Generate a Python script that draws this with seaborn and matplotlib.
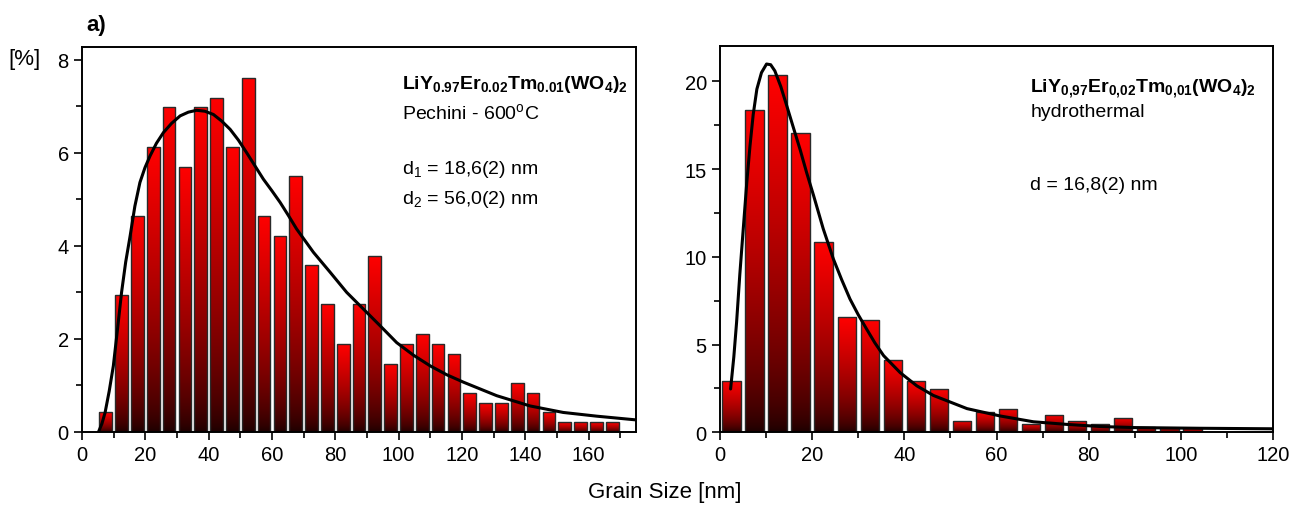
import numpy as np
import pandas as pd
import seaborn as sns
import matplotlib.pyplot as plt
from matplotlib.ticker import MultipleLocator

# Pechini - 600C histogram (bin centres, % of grains)
pech_bins = [7.5, 12.5, 17.5, 22.5, 27.5, 32.5, 37.5, 42.5, 47.5, 52.5, 57.5,
             62.5, 67.5, 72.5, 77.5, 82.5, 87.5, 92.5, 97.5, 102.5, 107.5,
             112.5, 117.5, 122.5, 127.5, 132.5, 137.5, 142.5, 147.5, 152.5,
             157.5, 162.5, 167.5]
pech_vals = [0.42, 2.95, 4.64, 6.12, 6.97, 5.70, 6.97, 7.18, 6.12, 7.60, 4.64,
             4.21, 5.49, 3.58, 2.74, 1.89, 2.74, 3.79, 1.47, 1.89, 2.10,
             1.89, 1.68, 0.84, 0.63, 0.63, 1.05, 0.84, 0.42, 0.21,
             0.21, 0.21, 0.21]
# fitted curve
pech_fit_x = [5.2, 6.3, 7.3, 8.6, 9.9, 11.2, 12.5, 13.8, 15.2, 16.7, 18.3, 19.9,
              21.5, 23.5, 25.7, 28.3, 31.0, 33.6, 36.2, 38.8, 41.5, 44.1, 46.8,
              49.4, 52.0, 54.6, 57.3, 60.0, 62.6, 65.2, 67.8, 73.1, 78.4, 83.6,
              88.9, 94.2, 99.4, 104.7, 110.0, 115.2, 120.5, 131.0, 141.5, 152.0,
              162.6, 175.0]
pech_fit_y = [0.0, 0.18, 0.42, 0.88, 1.42, 2.2, 3.0, 3.65, 4.21, 4.85, 5.36, 5.68,
              5.93, 6.2, 6.43, 6.63, 6.79, 6.87, 6.91, 6.89, 6.82, 6.68, 6.50,
              6.27, 6.0, 5.72, 5.43, 5.18, 4.93, 4.65, 4.36, 3.86, 3.43, 3.0,
              2.64, 2.28, 1.92, 1.65, 1.42, 1.23, 1.07, 0.78, 0.56, 0.42,
              0.34, 0.26]

# hydrothermal histogram
hyd_bins = [2.5, 7.5, 12.5, 17.5, 22.5, 27.5, 32.5, 37.5, 42.5, 47.5, 52.5,
            57.5, 62.5, 67.5, 72.5, 77.5, 82.5, 87.5, 92.5, 97.5, 102.5]
hyd_vals = [2.94, 18.38, 20.36, 17.04, 10.86, 6.55, 6.40, 4.10, 2.94, 2.47, 0.65,
            1.14, 1.33, 0.49, 1.0, 0.66, 0.47, 0.83, 0.3, 0.26, 0.22]
hyd_fit_x = [2.3, 3.0, 3.6, 4.3, 5.1, 5.8, 6.5, 7.2, 8.0, 9.0, 10.1, 11.0,
             11.9, 13.2, 14.5, 16.0, 17.4, 18.8, 20.3, 22.4, 24.6, 26.4, 28.2,
             30.0, 31.8, 33.6, 35.5, 39.1, 42.7, 46.3, 53.6, 60.8, 68.0, 75.3,
             82.5, 89.7, 104.0, 120.0]
hyd_fit_y = [2.47, 4.3, 6.27, 9.0, 11.78, 14.2, 16.3, 18.1, 19.56, 20.5,
             20.99, 20.95, 20.6, 19.7, 18.6, 17.3, 16.1, 14.8, 13.5, 11.6, 9.88,
             8.7, 7.6, 6.7, 5.89, 5.1, 4.37, 3.4, 2.65, 2.1, 1.35, 0.93, 0.6,
             0.45, 0.33, 0.27, 0.23, 0.2]

sns.set_style('ticks')
plt.rcParams['font.family'] = ['Liberation Sans', 'DejaVu Sans']
plt.rcParams['mathtext.fontset'] = 'custom'
plt.rcParams['mathtext.rm'] = 'Liberation Sans'
plt.rcParams['mathtext.it'] = 'Liberation Sans:italic'
plt.rcParams['mathtext.bf'] = 'Liberation Sans:bold'
for key in ['text.color', 'axes.labelcolor', 'xtick.color', 'ytick.color']:
    plt.rcParams[key] = 'black'


def gradient_bars(ax):
    t = np.linspace(0, 1, 256) ** 0.65
    grad = np.zeros((256, 1, 3))
    grad[:, 0, 0] = 0.1 + 0.9 * t
    for p in ax.patches:
        x0, w, h = p.get_x(), p.get_width(), p.get_height()
        im = ax.imshow(grad, extent=[x0, x0 + w, 0, h], origin='lower',
                       aspect='auto', zorder=1.5)
        im.set_clip_path(p)
        p.set_facecolor('none')
        p.set_edgecolor('#2a2a2a')
        p.set_linewidth(1.0)
        p.set_zorder(2)


def style_axis(ax):
    for s in ax.spines.values():
        s.set_linewidth(1.4)
        s.set_color('black')
    ax.tick_params(which='major', length=6, width=1.2, labelsize=14.5,
                   direction='out')
    ax.tick_params(which='minor', length=4, width=1.2, direction='out')
    ax.set_xlabel('')
    ax.set_ylabel('')


fig = plt.figure(figsize=(13.09, 5.10), dpi=100)
ax1 = fig.add_axes([82 / 1309, 1 - 433 / 510, 554 / 1309, 385.5 / 510])
ax2 = fig.add_axes([720 / 1309, 1 - 433.3 / 510, 553 / 1309, 386 / 510])

# left panel
sns.barplot(x=pech_bins, y=pech_vals, native_scale=True, width=0.8,
            color='red', ax=ax1)
gradient_bars(ax1)
ax1.plot(pech_fit_x, pech_fit_y, color='black', lw=2.2, zorder=3)
ax1.set_xlim(0, 175)
ax1.set_ylim(0, 8.28)
ax1.xaxis.set_major_locator(MultipleLocator(20))
ax1.xaxis.set_minor_locator(MultipleLocator(10))
ax1.yaxis.set_major_locator(MultipleLocator(2))
ax1.yaxis.set_minor_locator(MultipleLocator(1))
style_axis(ax1)

ax1.text(0.578, 0.905, r'$\mathbf{LiY_{0.97}Er_{0.02}Tm_{0.01}(WO_4)_2}$',
         transform=ax1.transAxes, fontsize=14, va='center')
ax1.text(0.578, 0.83, r'Pechini - 600$^{\rm o}$C', transform=ax1.transAxes,
         fontsize=14, va='center')
ax1.text(0.578, 0.683, r'd$_1$ = 18,6(2) nm', transform=ax1.transAxes,
         fontsize=14, va='center')
ax1.text(0.578, 0.605, r'd$_2$ = 56,0(2) nm', transform=ax1.transAxes,
         fontsize=14, va='center')

# right panel
sns.barplot(x=hyd_bins, y=hyd_vals, native_scale=True, width=0.8,
            color='red', ax=ax2)
gradient_bars(ax2)
ax2.plot(hyd_fit_x, hyd_fit_y, color='black', lw=2.2, zorder=3)
ax2.set_xlim(0, 120)
ax2.set_ylim(0, 22)
ax2.xaxis.set_major_locator(MultipleLocator(20))
ax2.xaxis.set_minor_locator(MultipleLocator(10))
ax2.yaxis.set_major_locator(MultipleLocator(5))
ax2.yaxis.set_minor_locator(MultipleLocator(2.5))
style_axis(ax2)

ax2.text(0.561, 0.893, r'$\mathbf{LiY_{0{,}97}Er_{0{,}02}Tm_{0{,}01}(WO_4)_2}$',
         transform=ax2.transAxes, fontsize=14, va='center')
ax2.text(0.561, 0.83, 'hydrothermal', transform=ax2.transAxes,
         fontsize=14, va='center')
ax2.text(0.561, 0.643, 'd = 16,8(2) nm', transform=ax2.transAxes,
         fontsize=14, va='center')

fig.text(665 / 1309, 1 - 493 / 510, 'Grain Size [nm]', fontsize=16,
         ha='center', va='center')
fig.text(25 / 1309, 1 - 60 / 510, '[%]', fontsize=16, ha='center', va='center')
fig.text(96 / 1309, 1 - 25 / 510, 'a)', fontsize=16, fontweight='bold',
         ha='center', va='center')

fig.savefig('out.png', dpi=100)
